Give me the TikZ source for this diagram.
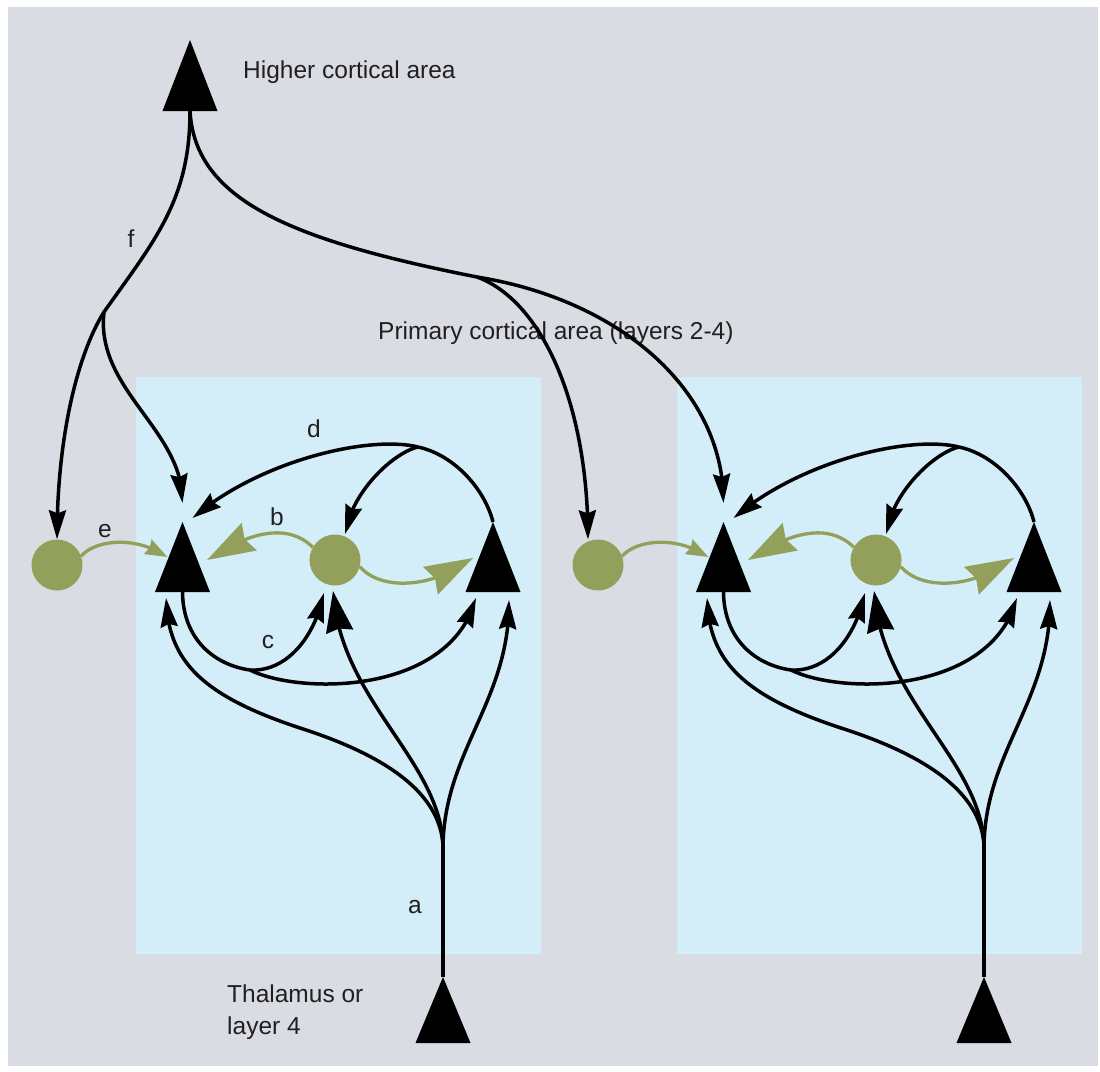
\documentclass[tikz,border=0pt]{standalone}
\usepackage{fontspec}
\setmainfont{Liberation Sans}
\usetikzlibrary{arrows.meta,bending}
\definecolor{bggray}{RGB}{217,220,227}
\definecolor{panelblue}{RGB}{211,238,249}
\definecolor{cellgreen}{RGB}{147,160,91}
\definecolor{ink}{RGB}{35,31,32}

\begin{document}
\begin{tikzpicture}[x=1pt,y=-1pt,
  axon/.style={line width=3.5pt,black},
  dend/.style={line width=3.3pt,cellgreen},
  tipS/.style={-{Stealth[length=29pt,width=17pt,inset=3pt,flex]}},
  tipL/.style={-{Stealth[length=41pt,width=27pt,inset=3pt,flex]}},
  gtipS/.style={-{Stealth[length=22pt,width=16pt,inset=2pt,flex]}},
  gtipL/.style={-{Stealth[length=48pt,width=31pt,inset=5pt,flex]}},
  lbl/.style={font=\fontsize{24.5}{32}\selectfont,inner sep=0pt,text=ink},
  cell/.style={circle,fill=cellgreen,minimum size=51pt,inner sep=0pt},
  pyramid/.pic={
    \fill[black] (0,0) -- (-27.5,#1) -- (27.5,#1) -- cycle;
    \coordinate (-apex) at (0,0);
    \coordinate (-base) at (0,#1);
  }]

% page and background
\useasboundingbox (0,0) rectangle (1100,1071);
\fill[white] (0,0) rectangle (1100,1071);
\fill[bggray] (8,7) rectangle (1098,1066);

% the two patches of primary cortex
\foreach \s/\dx in {1/0,2/541}{
  \fill[panelblue] (136+\dx,377) rectangle (541+\dx,954);
}

% text
\node[lbl,anchor=base west] (hca) at (243,78) {Higher cortical area};
\node[lbl,anchor=base west] (pca) at (378,339) {Primary cortical area (layers 2-4)};
\node[lbl,anchor=north west,align=left] (thal) at (227,985) {Thalamus or\\layer 4};
\node[lbl,anchor=base] (la) at (415,913) {a};
\node[lbl,anchor=base] (lb) at (277,525) {b};
\node[lbl,anchor=base] (lc) at (268,648) {c};
\node[lbl,anchor=base] (ld) at (314,437) {d};
\node[lbl,anchor=base] (le) at (105,537) {e};
\node[lbl,anchor=base] (lf) at (131,247) {f};

% higher-area pyramidal cell
\pic (H) at (190,40) {pyramid=71};

% cells of each patch
\foreach \s/\dx in {1/0,2/541}{
  \begin{scope}[xshift=\dx pt]
    \pic (A\s) at (182.5,522) {pyramid=70};
    \pic (B\s) at (493,522) {pyramid=70};
    \pic (T\s) at (443,977) {pyramid=66};
    \node[cell] (C\s) at (335,560) {};
    \node[cell] (E\s) at (57,565) {};
    \coordinate (D\s) at (418,447);
    \coordinate (K\s) at (250,670);
    \coordinate (J\s) at (443,845);

    % inhibitory connections
    \draw[dend,gtipS] (E\s.20) .. controls (95,540) and (135,535) .. ([xshift=-15pt,yshift=-35pt]A\s-apex);
    \draw[dend,gtipL] (C\s.150) .. controls (290,525) and (255,528) .. ([xshift=24.5pt,yshift=-38pt]A\s-apex);
    \draw[dend,gtipL] (C\s.-15) .. controls (380,590) and (430,590) .. ([xshift=-20pt,yshift=-36pt]B\s-apex);

    % d: feedback from the right pyramid
    \draw[axon] (B\s-apex) .. controls (485,490) and (455,455) .. (D\s);
    \draw[axon,tipS] (D\s) .. controls (370,435) and (260,460) .. ([xshift=10pt,yshift=4pt]A\s-apex);
    \draw[axon,tipS] (D\s) .. controls (395,452) and (352,490) .. ([xshift=10pt,yshift=26pt]C\s.center);

    % c: output of the left pyramid
    \draw[axon] (A\s-base) .. controls (183,640) and (215,665) .. (K\s);
    \draw[axon,tipS] (K\s) .. controls (285,672) and (314,640) .. ([xshift=-11pt,yshift=-33pt]C\s.center);
    \draw[axon,tipS] (K\s) .. controls (300,695) and (450,695) .. ([xshift=-17pt,yshift=-6pt]B\s-base);

    % a: ascending input
    \draw[axon] (T\s-apex) -- (J\s);
    \draw[axon,tipS] (J\s) .. controls (440,800) and (400,760) .. (300,728)
      .. controls (200,695) and (168,660) .. ([xshift=-16.5pt,yshift=-6pt]A\s-base);
    \draw[axon,tipL] (J\s) .. controls (440,760) and (340,700) .. ([xshift=-2pt,yshift=-31pt]C\s.center);
    \draw[axon,tipS] (J\s) .. controls (445,750) and (510,700) .. ([xshift=16pt,yshift=-8pt]B\s-base);
  \end{scope}
}

% f: feedback from the higher area
\coordinate (F1) at (104,312);
\coordinate (F2) at (477,277);
\draw[axon] (H-base) .. controls (190,200) and (155,240) .. (F1);
\draw[axon,tipS] (F1) .. controls (80,350) and (57,430) .. (E1.north);
\draw[axon,tipS] (F1) .. controls (95,390) and (184,430) .. ([yshift=19pt]A1-apex);
\draw[axon] (H-base) .. controls (195,200) and (290,240) .. (F2);
\draw[axon,tipS] (F2) .. controls (540,300) and (588,400) .. ([xshift=-10pt]E2.north);
\draw[axon,tipS] (F2) .. controls (620,300) and (724,390) .. ([yshift=19pt]A2-apex);

\end{tikzpicture}
\end{document}
